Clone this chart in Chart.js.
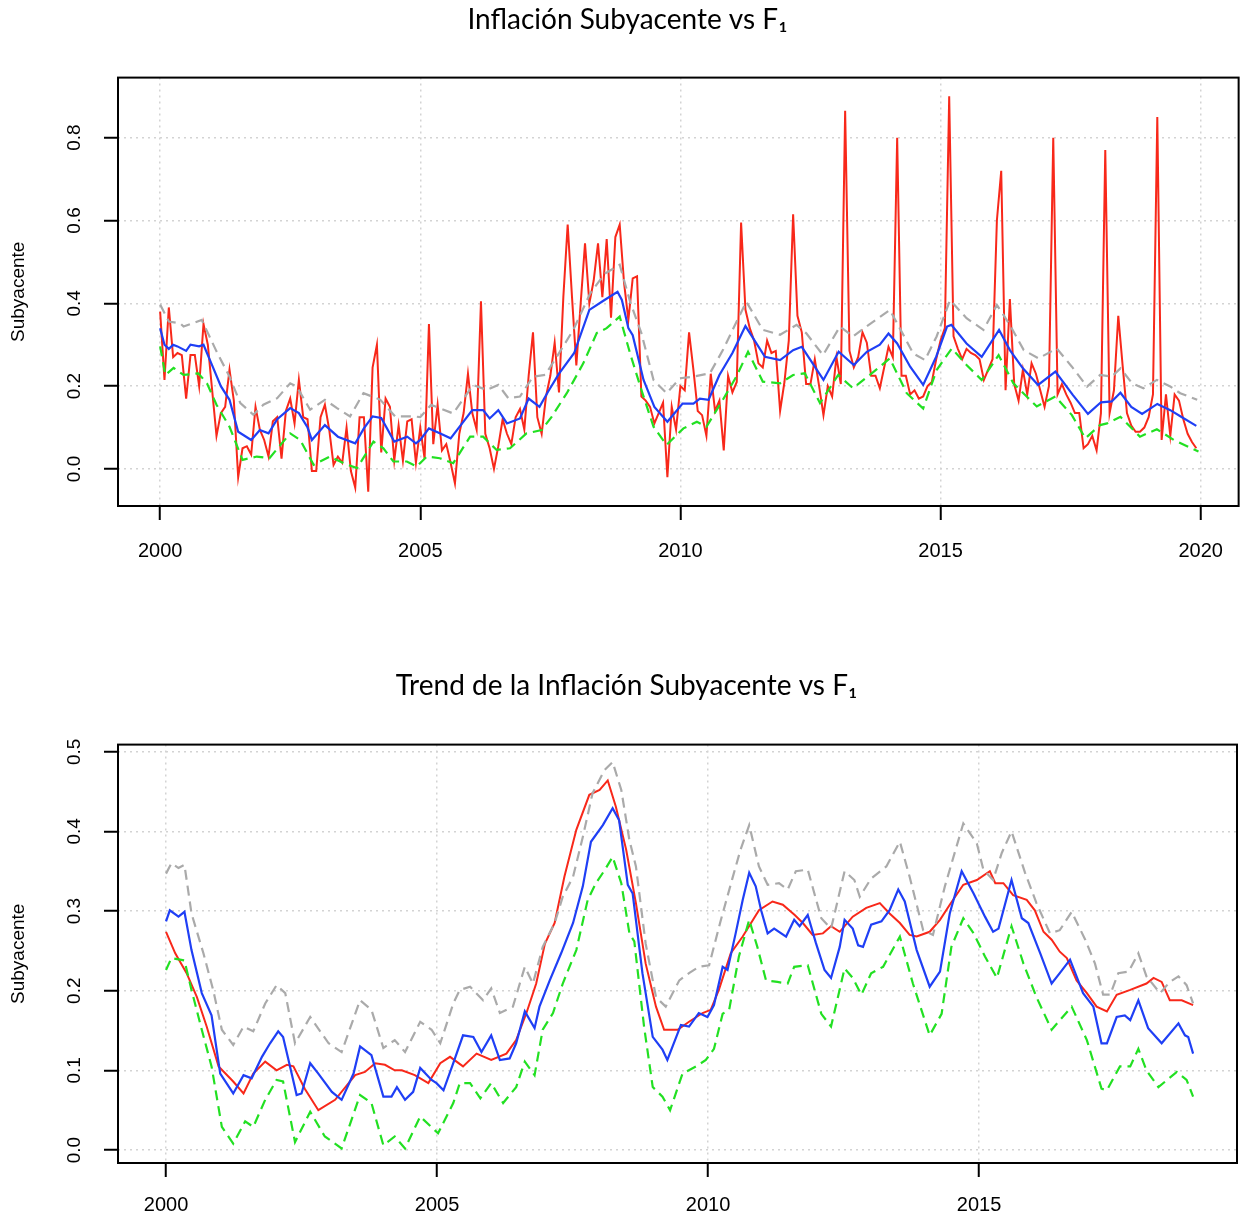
<!DOCTYPE html>
<html>
<head>
<meta charset="utf-8">
<title>Inflación Subyacente vs F1</title>
<script src="https://cdn.jsdelivr.net/npm/chart.js@4.4.0/dist/chart.umd.min.js"></script>
<style>
  body { margin: 0; background: #fff; }
  #wrap { position: relative; width: 1242px; height: 1220px; }
  canvas { position: absolute; left: 0; }
  #topChart { top: 0; }
  #trendChart { top: 600px; }
</style>
</head>
<body>
<div id="wrap">
  <canvas id="topChart" width="1242" height="600"></canvas>
  <canvas id="trendChart" width="1242" height="620"></canvas>
</div>
<script>
// monthly core inflation, jan 2000 .. dec 2019
const subyacente = [
  0.38, 0.215, 0.39, 0.27, 0.28, 0.275, 0.17, 0.275, 0.275, 0.20, 0.35, 0.30,
  0.19, 0.08, 0.135, 0.15, 0.24, 0.165, -0.02, 0.05, 0.055, 0.035, 0.15, 0.095,
  0.07, 0.03, 0.115, 0.125, 0.025, 0.14, 0.17, 0.11, 0.215, 0.125, 0.12, -0.005,
  -0.005, 0.125, 0.155, 0.095, 0.01, 0.03, 0.015, 0.10, -0.005, -0.045, 0.125, 0.125,
  -0.055, 0.245, 0.30, 0.04, 0.17, 0.15, 0.02, 0.105, 0.02, 0.115, 0.12, 0.015,
  0.10, 0.025, 0.35, 0.06, 0.155, 0.045, 0.06, 0.015, -0.035, 0.085, 0.135, 0.23,
  0.135, 0.095, 0.405, 0.085, 0.05, 0.0, 0.055, 0.12, 0.085, 0.06, 0.125, 0.145,
  0.095, 0.225, 0.33, 0.125, 0.085, 0.175, 0.225, 0.305, 0.185, 0.415, 0.59, 0.415,
  0.25, 0.40, 0.545, 0.40, 0.455, 0.545, 0.415, 0.555, 0.365, 0.56, 0.59, 0.45,
  0.36, 0.46, 0.465, 0.175, 0.165, 0.15, 0.11, 0.135, 0.16, -0.02, 0.15, 0.095,
  0.2, 0.19, 0.33, 0.24, 0.14, 0.13, 0.08, 0.23, 0.14, 0.165, 0.045, 0.225,
  0.185, 0.21, 0.595, 0.385, 0.34, 0.31, 0.255, 0.245, 0.31, 0.28, 0.285, 0.14,
  0.21, 0.31, 0.615, 0.37, 0.33, 0.205, 0.205, 0.265, 0.2, 0.13, 0.2, 0.175,
  0.27, 0.205, 0.865, 0.285, 0.245, 0.27, 0.33, 0.305, 0.225, 0.225, 0.195, 0.245,
  0.295, 0.27, 0.80, 0.225, 0.225, 0.18, 0.19, 0.17, 0.175, 0.2, 0.21, 0.265,
  0.31, 0.34, 0.90, 0.32, 0.29, 0.265, 0.29, 0.28, 0.275, 0.265, 0.215, 0.24,
  0.265, 0.60, 0.72, 0.19, 0.41, 0.205, 0.165, 0.24, 0.18, 0.255, 0.23, 0.19,
  0.15, 0.2, 0.80, 0.18, 0.205, 0.18, 0.16, 0.135, 0.135, 0.05, 0.06, 0.08,
  0.045, 0.135, 0.77, 0.135, 0.19, 0.37, 0.25, 0.135, 0.105, 0.09, 0.09, 0.1,
  0.125, 0.18, 0.85, 0.07, 0.18, 0.08, 0.18, 0.165, 0.12, 0.085, 0.065, 0.05
];

// F1 and its bands, [month since jan 2000, value]
const f1 = [[0,0.34],[1,0.30],[2,0.29],[3,0.30],[4,0.296],[6,0.285],[7,0.30],[9,0.296],[10,0.30],[12,0.25],[14,0.20],[16,0.167],[18,0.09],[21,0.07],[23,0.094],[25,0.086],[27,0.12],[30,0.147],[32,0.135],[34,0.10],[35,0.07],[38,0.106],[41,0.078],[45,0.062],[47,0.098],[49,0.127],[51,0.123],[54,0.066],[57,0.078],[59,0.062],[60,0.07],[62,0.098],[64.5,0.086],[67,0.074],[72,0.142],[74.5,0.142],[76,0.122],[78,0.142],[80,0.11],[83,0.122],[85,0.17],[87.5,0.15],[89.5,0.187],[92,0.23],[95.5,0.28],[99,0.384],[102.5,0.408],[105.5,0.428],[106.5,0.408],[108,0.34],[109,0.323],[111.5,0.215],[114,0.15],[117,0.114],[120.5,0.158],[123,0.158],[124.5,0.17],[126.5,0.167],[129,0.227],[132,0.28],[135,0.345],[139.5,0.271],[143,0.263],[146,0.287],[148,0.295],[153,0.215],[156.5,0.283],[160,0.251],[163,0.283],[166,0.30],[168,0.327],[170,0.303],[173,0.247],[176,0.203],[179,0.271],[181.5,0.344],[182.5,0.348],[186,0.303],[189.5,0.271],[193.5,0.336],[196,0.287],[199,0.243],[202.5,0.203],[206.5,0.235],[210.5,0.179],[214,0.133],[217,0.161],[219.5,0.163],[221.5,0.184],[224,0.15],[226.5,0.133],[230,0.157],[233,0.142],[235.5,0.126],[239,0.104]];
const f1Upper = [[0,0.397],[2,0.356],[4.6,0.352],[5.4,0.344],[7,0.35],[9.6,0.36],[13,0.284],[16,0.223],[18.5,0.159],[21.5,0.131],[23.8,0.155],[27,0.171],[30,0.207],[31.5,0.199],[34.6,0.143],[38,0.167],[40.8,0.147],[43.8,0.127],[46.9,0.183],[50.8,0.167],[54.2,0.127],[58.5,0.127],[60,0.125],[62.5,0.155],[67.6,0.134],[72.2,0.203],[75.3,0.191],[78,0.203],[80.3,0.171],[83,0.175],[86,0.223],[88.8,0.227],[91.5,0.271],[95.3,0.336],[99.2,0.424],[102.6,0.472],[106,0.493],[108.4,0.404],[111,0.328],[113.8,0.215],[116.8,0.183],[119.9,0.219],[123,0.223],[126.8,0.231],[129.8,0.287],[135.2,0.404],[139,0.336],[143,0.324],[146.8,0.348],[149,0.328],[152.9,0.275],[156.8,0.344],[159.8,0.32],[162.9,0.344],[168.3,0.384],[170.6,0.34],[173.7,0.279],[176.4,0.263],[179.1,0.32],[182.2,0.408],[186,0.364],[189.9,0.336],[193,0.396],[196,0.348],[199.2,0.287],[202.6,0.267],[206.8,0.291],[210.3,0.247],[213.8,0.199],[216.8,0.227],[219.5,0.223],[221.5,0.243],[224.2,0.207],[226.8,0.195],[229.9,0.215],[233,0.199],[235.3,0.183],[239.2,0.167]];
const f1Lower = [[0,0.296],[1.2,0.227],[3.1,0.244],[5.4,0.227],[8.8,0.231],[10.8,0.207],[13,0.155],[16,0.102],[19,0.022],[22.3,0.03],[25.2,0.026],[30,0.086],[32.3,0.07],[35.4,0.01],[39.2,0.03],[42.3,0.014],[45.4,0.002],[49.2,0.066],[51.5,0.05],[53.8,0.018],[56.9,0.018],[59.2,0.006],[61.5,0.03],[64.5,0.026],[67.6,0.014],[71.5,0.078],[74.5,0.078],[77.6,0.046],[80.7,0.05],[84.5,0.086],[88,0.094],[90.3,0.126],[93.8,0.183],[97.6,0.255],[100.7,0.328],[103,0.34],[106,0.368],[108.4,0.279],[111,0.191],[113.8,0.102],[116.8,0.058],[120.7,0.098],[123.8,0.114],[126,0.102],[129.8,0.167],[132.9,0.223],[135.6,0.283],[139,0.211],[143,0.207],[146,0.227],[148.7,0.231],[152.2,0.159],[156.4,0.227],[159.8,0.195],[163.7,0.227],[168.3,0.267],[172.2,0.183],[176,0.146],[179.1,0.239],[182.6,0.291],[186,0.251],[189.5,0.215],[193.4,0.275],[196.8,0.207],[202.2,0.151],[206.5,0.175],[210.3,0.13],[213.4,0.074],[216.8,0.106],[218.4,0.11],[221.5,0.126],[226,0.078],[229.9,0.096],[233.8,0.07],[239.5,0.042]];

// trend panel, [year, value]
const trendSub = [[2000,0.274],[2000.17,0.247],[2000.38,0.222],[2000.57,0.192],[2000.75,0.155],[2000.97,0.105],[2001.24,0.086],[2001.43,0.071],[2001.61,0.096],[2001.83,0.111],[2002.04,0.10],[2002.23,0.107],[2002.35,0.105],[2002.56,0.077],[2002.81,0.05],[2003.12,0.063],[2003.49,0.094],[2003.67,0.098],[2003.86,0.109],[2004.04,0.107],[2004.22,0.10],[2004.35,0.10],[2004.59,0.094],[2004.84,0.084],[2005.06,0.109],[2005.24,0.117],[2005.48,0.105],[2005.73,0.121],[2006.0,0.113],[2006.28,0.121],[2006.46,0.138],[2006.65,0.172],[2006.83,0.209],[2006.99,0.259],[2007.17,0.285],[2007.35,0.343],[2007.57,0.402],[2007.81,0.446],[2008.0,0.452],[2008.15,0.464],[2008.3,0.431],[2008.49,0.377],[2008.67,0.31],[2008.85,0.234],[2009.04,0.18],[2009.19,0.151],[2009.44,0.151],[2009.65,0.161],[2009.9,0.172],[2010.05,0.176],[2010.2,0.201],[2010.42,0.247],[2010.64,0.268],[2010.94,0.301],[2011.19,0.312],[2011.38,0.308],[2011.6,0.295],[2011.75,0.285],[2011.93,0.27],[2012.12,0.272],[2012.27,0.281],[2012.43,0.274],[2012.67,0.293],[2012.92,0.304],[2013.17,0.31],[2013.35,0.297],[2013.54,0.285],[2013.72,0.27],[2013.85,0.268],[2014.09,0.274],[2014.28,0.289],[2014.46,0.308],[2014.71,0.333],[2014.96,0.339],[2015.2,0.35],[2015.3,0.335],[2015.45,0.335],[2015.63,0.32],[2015.88,0.314],[2016.03,0.301],[2016.19,0.274],[2016.34,0.264],[2016.49,0.249],[2016.62,0.241],[2016.8,0.213],[2016.99,0.197],[2017.17,0.18],[2017.36,0.174],[2017.54,0.195],[2017.79,0.201],[2018.09,0.209],[2018.22,0.216],[2018.37,0.211],[2018.52,0.188],[2018.74,0.188],[2018.95,0.182]];
const trendF1 = [[2000,0.287],[2000.07,0.301],[2000.23,0.293],[2000.34,0.299],[2000.47,0.251],[2000.66,0.197],[2000.84,0.169],[2001.0,0.096],[2001.24,0.071],[2001.43,0.094],[2001.58,0.09],[2001.77,0.117],[2001.92,0.134],[2002.07,0.149],[2002.16,0.142],[2002.26,0.113],[2002.41,0.069],[2002.5,0.071],[2002.66,0.109],[2002.81,0.096],[2003.06,0.073],[2003.24,0.063],[2003.46,0.096],[2003.58,0.13],[2003.79,0.119],[2004.01,0.067],[2004.16,0.067],[2004.26,0.079],[2004.41,0.063],[2004.56,0.073],[2004.69,0.103],[2004.9,0.088],[2004.99,0.084],[2005.12,0.075],[2005.3,0.109],[2005.48,0.144],[2005.67,0.142],[2005.82,0.123],[2006.0,0.144],[2006.16,0.113],[2006.34,0.115],[2006.46,0.134],[2006.62,0.174],[2006.8,0.153],[2006.89,0.18],[2007.08,0.213],[2007.29,0.247],[2007.51,0.285],[2007.69,0.331],[2007.84,0.387],[2008.06,0.408],[2008.24,0.429],[2008.36,0.414],[2008.52,0.333],[2008.61,0.322],[2008.79,0.222],[2008.98,0.142],[2009.16,0.126],[2009.25,0.113],[2009.5,0.157],[2009.65,0.155],[2009.83,0.172],[2009.99,0.167],[2010.11,0.182],[2010.27,0.23],[2010.36,0.226],[2010.51,0.272],[2010.64,0.314],[2010.76,0.348],[2010.88,0.331],[2010.98,0.301],[2011.1,0.272],[2011.22,0.278],[2011.44,0.268],[2011.59,0.289],[2011.69,0.281],[2011.84,0.295],[2011.99,0.26],[2012.15,0.226],[2012.27,0.216],[2012.43,0.255],[2012.52,0.289],[2012.67,0.278],[2012.77,0.257],[2012.86,0.255],[2013.01,0.283],[2013.2,0.287],[2013.35,0.301],[2013.51,0.327],[2013.63,0.312],[2013.85,0.251],[2014.09,0.205],[2014.28,0.224],[2014.46,0.297],[2014.68,0.35],[2014.9,0.322],[2015.11,0.293],[2015.26,0.274],[2015.36,0.278],[2015.6,0.339],[2015.79,0.291],[2015.91,0.285],[2016.13,0.247],[2016.34,0.209],[2016.49,0.222],[2016.68,0.239],[2016.92,0.197],[2017.11,0.18],[2017.26,0.134],[2017.36,0.134],[2017.54,0.167],[2017.69,0.169],[2017.79,0.163],[2017.94,0.188],[2018.12,0.153],[2018.37,0.134],[2018.68,0.159],[2018.8,0.144],[2018.86,0.142],[2018.95,0.121]];
const trendUpper = [[2000,0.347],[2000.1,0.36],[2000.23,0.354],[2000.34,0.358],[2000.47,0.297],[2000.69,0.247],[2000.87,0.201],[2001.03,0.151],[2001.24,0.132],[2001.43,0.155],[2001.61,0.149],[2001.83,0.184],[2002.04,0.207],[2002.2,0.197],[2002.38,0.134],[2002.66,0.167],[2003.0,0.134],[2003.24,0.123],[2003.58,0.188],[2003.79,0.176],[2004.01,0.128],[2004.22,0.138],[2004.41,0.123],[2004.69,0.161],[2004.9,0.151],[2005.06,0.134],[2005.3,0.184],[2005.42,0.201],[2005.61,0.205],[2005.85,0.188],[2006.0,0.203],[2006.16,0.172],[2006.4,0.18],[2006.62,0.23],[2006.77,0.209],[2006.95,0.255],[2007.17,0.285],[2007.32,0.318],[2007.51,0.343],[2007.69,0.393],[2007.87,0.448],[2008.09,0.477],[2008.24,0.487],[2008.4,0.452],[2008.55,0.389],[2008.67,0.356],[2008.85,0.259],[2009.04,0.192],[2009.22,0.18],[2009.47,0.213],[2009.65,0.222],[2009.83,0.23],[2010.02,0.232],[2010.23,0.287],[2010.45,0.341],[2010.6,0.377],[2010.76,0.408],[2010.94,0.356],[2011.1,0.333],[2011.31,0.335],[2011.47,0.327],[2011.62,0.35],[2011.84,0.352],[2012.09,0.291],[2012.27,0.278],[2012.52,0.35],[2012.7,0.339],[2012.8,0.318],[2013.01,0.341],[2013.29,0.356],[2013.54,0.387],[2013.72,0.343],[2013.97,0.276],[2014.15,0.27],[2014.37,0.331],[2014.71,0.41],[2014.96,0.385],[2015.08,0.352],[2015.26,0.339],[2015.42,0.373],[2015.6,0.40],[2015.85,0.348],[2016.06,0.31],[2016.31,0.272],[2016.49,0.276],[2016.71,0.299],[2016.96,0.264],[2017.14,0.234],[2017.29,0.195],[2017.42,0.195],[2017.57,0.222],[2017.76,0.224],[2017.94,0.247],[2018.09,0.218],[2018.34,0.197],[2018.52,0.211],[2018.68,0.218],[2018.83,0.207],[2018.95,0.184]];
const trendLower = [[2000,0.226],[2000.1,0.241],[2000.34,0.238],[2000.47,0.201],[2000.66,0.151],[2000.84,0.105],[2001.03,0.029],[2001.24,0.008],[2001.46,0.036],[2001.61,0.029],[2001.83,0.063],[2002.04,0.088],[2002.16,0.086],[2002.38,0.01],[2002.66,0.048],[2002.93,0.017],[2003.24,0.002],[2003.58,0.069],[2003.79,0.059],[2004.01,0.006],[2004.22,0.017],[2004.41,0.002],[2004.69,0.042],[2005.02,0.021],[2005.3,0.059],[2005.42,0.084],[2005.61,0.084],[2005.8,0.065],[2006.0,0.084],[2006.22,0.059],[2006.46,0.079],[2006.62,0.111],[2006.8,0.094],[2006.95,0.151],[2007.14,0.172],[2007.32,0.209],[2007.57,0.251],[2007.78,0.314],[2007.93,0.335],[2008.09,0.351],[2008.24,0.368],[2008.4,0.335],[2008.55,0.272],[2008.64,0.262],[2008.82,0.155],[2008.98,0.079],[2009.16,0.067],[2009.3,0.05],[2009.53,0.096],[2009.78,0.105],[2009.96,0.113],[2010.11,0.127],[2010.27,0.171],[2010.39,0.176],[2010.57,0.243],[2010.76,0.289],[2010.91,0.255],[2011.07,0.213],[2011.28,0.211],[2011.47,0.209],[2011.59,0.23],[2011.84,0.232],[2012.09,0.171],[2012.27,0.155],[2012.52,0.228],[2012.67,0.216],[2012.83,0.195],[2013.01,0.222],[2013.23,0.23],[2013.54,0.268],[2013.78,0.209],[2014.09,0.144],[2014.31,0.171],[2014.49,0.255],[2014.71,0.291],[2014.9,0.272],[2015.11,0.243],[2015.33,0.216],[2015.6,0.281],[2015.82,0.234],[2016.06,0.192],[2016.34,0.151],[2016.71,0.18],[2016.99,0.138],[2017.26,0.077],[2017.36,0.075],[2017.6,0.105],[2017.79,0.105],[2017.94,0.127],[2018.09,0.1],[2018.31,0.079],[2018.65,0.098],[2018.83,0.088],[2018.95,0.067]];

const RED = '#f8281a', BLUE = '#1f3ff5', GRAY = '#aaaaaa', GREEN = '#22e022';
const AXIS_FONT = '"Liberation Sans", Arial, sans-serif';
const TITLE_FONT = 'Lato, "Open Sans", sans-serif';

// R look: box round the plot and y tick labels read bottom to top
const rPlot = {
  id: 'rPlot',
  afterDraw(chart) {
    const ctx = chart.ctx, a = chart.chartArea, y = chart.scales.y;
    ctx.save();
    ctx.strokeStyle = '#000';
    ctx.lineWidth = 2;
    ctx.strokeRect(a.left, a.top, a.right - a.left, a.bottom - a.top);
    ctx.fillStyle = '#000';
    ctx.font = '19px ' + AXIS_FONT;
    ctx.textAlign = 'center';
    ctx.textBaseline = 'middle';
    y.ticks.forEach(t => {
      ctx.save();
      ctx.translate(a.left - 43, y.getPixelForValue(t.value));
      ctx.rotate(-Math.PI / 2);
      ctx.fillText(t.value.toFixed(1), 0, 0);
      ctx.restore();
    });
    ctx.restore();
  }
};

function line(points, color, width, dash) {
  return {
    data: points.map(p => ({ x: p[0], y: p[1] })),
    borderColor: color,
    borderWidth: width,
    borderDash: dash || [],
    pointRadius: 0,
    tension: 0,
    fill: false
  };
}

const byMonth = pts => pts.map(p => [2000 + p[0] / 12, p[1]]);

function makeChart(id, o) {
  const grid = { color: '#d3d3d3', lineWidth: 1.5, tickLength: 14, tickColor: '#000', tickWidth: 2 };
  return new Chart(document.getElementById(id), {
    type: 'line',
    data: { datasets: o.datasets },
    options: {
      responsive: false,
      animation: false,
      devicePixelRatio: 1,
      // left padding keeps the title centred like the original figure
      layout: { padding: { left: 16, right: o.right, top: 0, bottom: 0 } },
      plugins: {
        legend: { display: false },
        tooltip: { enabled: false },
        title: {
          display: true,
          text: o.title,
          color: '#000',
          font: { family: TITLE_FONT, size: 28, weight: 'normal' },
          padding: { top: o.titleTop, bottom: o.titleBottom }
        }
      },
      scales: {
        x: {
          type: 'linear',
          min: o.xMin, max: o.xMax,
          afterFit: s => { s.height = o.xHeight; },
          ticks: {
            stepSize: 5, includeBounds: false, autoSkip: false, maxRotation: 0,
            padding: o.xPad, color: '#000',
            font: { family: AXIS_FONT, size: 20 },
            callback: v => String(v)
          },
          grid: grid,
          border: { display: false, dash: [2, 4] }
        },
        y: {
          min: o.yMin, max: o.yMax,
          afterFit: s => { s.width = 102; },
          ticks: { display: false, stepSize: o.yStep, includeBounds: false },
          title: {
            display: true, text: 'Subyacente', color: '#000',
            font: { family: AXIS_FONT, size: 19, lineHeight: 0.3 },
            padding: { top: 0, bottom: 0 }
          },
          grid: grid,
          border: { display: false, dash: [2, 4] }
        }
      }
    },
    plugins: [rPlot]
  });
}

makeChart('topChart', {
  title: 'Inflación Subyacente vs F₁',
  titleTop: 3, titleBottom: 41,
  right: 3, xHeight: 94, xPad: 19,
  xMin: 1999.19, xMax: 2020.73,
  yMin: -0.0894, yMax: 0.945, yStep: 0.2,
  datasets: [
    line(byMonth(f1), BLUE, 2.2),
    line(byMonth(f1Lower), GREEN, 2.2, [10, 6]),
    line(byMonth(f1Upper), GRAY, 2.2, [10, 6]),
    line(subyacente.map((v, i) => [2000 + i / 12, v]), RED, 2)
  ]
});

makeChart('trendChart', {
  title: 'Trend de la Inflación Subyacente vs F₁',
  titleTop: 69, titleBottom: 42,
  right: 5, xHeight: 57, xPad: 16,
  xMin: 1999.114, xMax: 2019.76,
  yMin: -0.0163, yMax: 0.509, yStep: 0.1,
  datasets: [
    line(trendF1, BLUE, 2.2),
    line(trendLower, GREEN, 2.2, [10, 6]),
    line(trendUpper, GRAY, 2.2, [10, 6]),
    line(trendSub, RED, 2)
  ]
});
</script>
</body>
</html>
